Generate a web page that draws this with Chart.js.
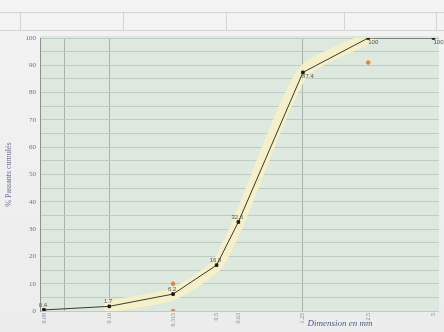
<!DOCTYPE html>
<html>
<head>
<meta charset="utf-8">
<script src="https://cdn.jsdelivr.net/npm/chart.js@4/dist/chart.umd.min.js"></script>
<style>
  html, body { margin: 0; padding: 0; background: #efefef; }
  #wrap { position: relative; width: 444px; height: 332px; overflow: hidden; background: linear-gradient(#f3f3f3, #ececec); }
  #wrap canvas { position: absolute; left: 0; top: 0; }
  .rule { position: absolute; background: #d3d3d3; }
  #xtitle { position: absolute; left: 290px; top: 318px; width: 100px; text-align: center;
            font: italic 9px "Liberation Serif", serif; color: #4c5c88; }
</style>
</head>
<body>
<div id="wrap">
  <div class="rule" style="left:0;top:12px;width:444px;height:1px"></div>
  <div class="rule" style="left:0;top:30px;width:444px;height:1px"></div>
  <div class="rule" style="left:20px;top:12px;width:1px;height:18px"></div>
  <div class="rule" style="left:123px;top:12px;width:1px;height:19px"></div>
  <div class="rule" style="left:226px;top:12px;width:1px;height:19px"></div>
  <div class="rule" style="left:344px;top:12px;width:1px;height:18px"></div>
  <div class="rule" style="left:436px;top:12px;width:1px;height:18px"></div>
  <canvas id="chart" width="444" height="332"></canvas>
  <div id="xtitle">Dimension en mm</div>
</div>
<script>
// Sieve openings (mm) and cumulative passing (%)
const sieveSizes   = [0.08, 0.16, 0.315, 0.5, 0.63, 1.25, 2.5, 5];
const sieveLabels  = ['0.08', '0.16', '0.315', '0.5', '0.63', '1.25', '2.5', '5'];
const passing      = [0.4, 1.7, 6.2, 16.8, 32.6, 87.4, 100, 100];
// Envelope band drawn behind the curve
const bandSizes    = [0.16, 0.315, 0.5, 0.63, 1.25, 2.5];
const bandValues   = [1.7, 6.2, 16.8, 32.6, 87.4, 100];
// Isolated limit points
const limitSizes   = [0.315, 0.315, 2.5];
const limitValues  = [10, 0, 91];
// Extra vertical rules of the grading sheet
const sheetRules   = [0.1, 0.16, 1.25];

const plotBackground = {
  id: 'plotBackground',
  beforeDraw(chart) {
    const { ctx, chartArea: a } = chart;
    ctx.save();
    ctx.fillStyle = '#dde8de';
    ctx.fillRect(a.left, a.top - 2, a.right - a.left, a.bottom - a.top + 3);
    ctx.restore();
  }
};

const pointValues = {
  id: 'pointValues',
  afterDatasetsDraw(chart) {
    const { ctx } = chart;
    const meta = chart.getDatasetMeta(1);
    ctx.save();
    ctx.font = '6px "Liberation Sans", sans-serif';
    ctx.fillStyle = '#555';
    ctx.textAlign = 'center';
    meta.data.forEach((pt, i) => {
      const v = passing[i];
      if (v >= 80) {
        ctx.textBaseline = 'top';
        ctx.fillText(String(v), pt.x + 5, pt.y + 1);
      } else {
        ctx.textBaseline = 'bottom';
        ctx.fillText(String(v), pt.x - 1, pt.y - 2);
      }
    });
    ctx.restore();
  }
};

new Chart(document.getElementById('chart'), {
  data: {
    datasets: [
      {
        type: 'line',
        label: 'band',
        data: bandSizes.map((x, i) => ({ x, y: bandValues[i] })),
        borderColor: 'rgba(246, 240, 198, 0.95)',
        borderWidth: 12,
        borderCapStyle: 'round',
        borderJoinStyle: 'round',
        tension: 0.2,
        pointRadius: 0,
        fill: false,
        order: 3
      },
      {
        type: 'line',
        label: 'passing',
        data: sieveSizes.map((x, i) => ({ x, y: passing[i] })),
        borderColor: '#3a3a36',
        borderWidth: 1,
        tension: 0,
        pointStyle: 'rect',
        pointRadius: 1.8,
        pointBackgroundColor: '#1a1a1a',
        pointBorderColor: '#1a1a1a',
        fill: false,
        order: 1
      },
      {
        type: 'scatter',
        label: 'limits',
        data: limitSizes.map((x, i) => ({ x, y: limitValues[i] })),
        pointRadius: 1.8,
        pointBackgroundColor: '#e8852e',
        pointBorderColor: '#e8852e',
        order: 0
      }
    ]
  },
  options: {
    responsive: false,
    animation: false,
    events: [],
    layout: { padding: { top: 38, left: 0, right: 0, bottom: 0 } },
    plugins: { legend: { display: false }, tooltip: { enabled: false } },
    scales: {
      x: {
        type: 'logarithmic',
        min: 0.0767,
        max: 5.3,
        afterBuildTicks(scale) {
          scale.ticks = [...sieveSizes, ...sheetRules.filter(v => !sieveSizes.includes(v))]
            .sort((a, b) => a - b)
            .map(value => ({ value }));
        },
        afterFit(scale) { scale.height = 21; },
        ticks: {
          autoSkip: false,
          minRotation: 90,
          maxRotation: 90,
          padding: 2,
          font: { family: '"Liberation Serif", serif', size: 6 },
          color: '#7a86a8',
          callback(value) {
            const i = sieveSizes.indexOf(value);
            return i >= 0 ? sieveLabels[i] : '';
          }
        },
        grid: {
          drawTicks: false,
          color(ctx) {
            return ctx.tick && sheetRules.includes(ctx.tick.value) ? '#aab4ad' : 'rgba(0,0,0,0)';
          }
        },
        border: { display: false }
      },
      y: {
        min: 0,
        max: 100,
        afterFit(scale) { scale.width = 40; },
        ticks: {
          stepSize: 5,
          padding: 4,
          font: { family: '"Liberation Serif", serif', size: 7 },
          color: '#6a7296',
          callback(value) { return value % 10 === 0 ? value : ''; }
        },
        grid: { drawTicks: false, color: '#c0ccc3' },
        border: { display: true, color: '#8d918e', width: 1 },
        title: {
          display: true,
          text: '% Passants cumulés',
          font: { family: '"Liberation Serif", serif', size: 8 },
          color: '#6a7296',
          padding: { top: 4, bottom: 0 }
        }
      }
    }
  },
  plugins: [plotBackground, pointValues]
});
</script>
</body>
</html>
